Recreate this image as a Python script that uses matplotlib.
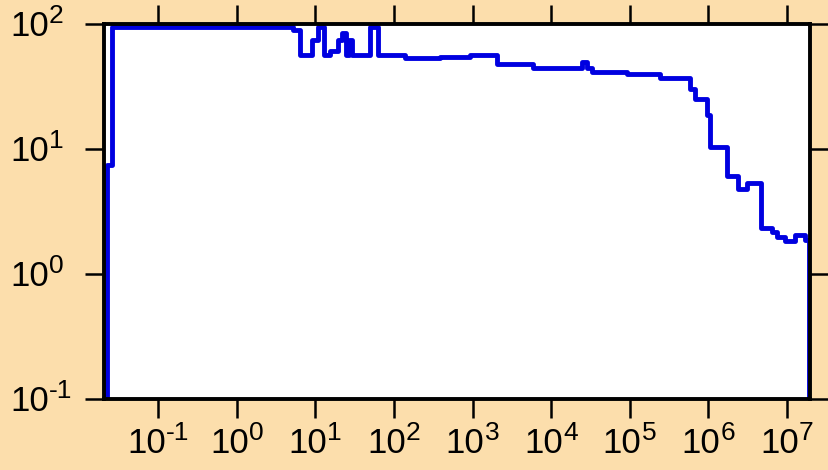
import matplotlib
matplotlib.use('Agg')
from matplotlib import pyplot as plt
from matplotlib.ticker import NullLocator

# step data (x where the level starts, level value)
x_vals = [0.0222, 0.0222, 0.0258, 5.18, 6.35, 9.02, 10.75, 12.8, 15.3, 19.3, 21.7,
          24.4, 26.7, 29.1, 49.3, 62.4, 137.6, 159, 384, 925, 2042, 5865,
          24660, 28560, 33060, 92300, 242700, 584800, 677000, 962700,
          1.05e6, 1.73e6, 2.39e6, 3.11e6, 4.69e6, 6.47e6, 7.5e6, 9.47e6,
          1.27e7, 1.70e7, 1.92e7]
y_vals = [0.05, 7.45, 94.6, 89.5, 56.0, 74.5, 94.6, 56.0, 60.0, 74.5, 84.7,
          56.0, 74.5, 56.0, 94.6, 56.0, 53.0, 53.5, 54.5, 56.0, 47.9, 44.5,
          49.7, 44.0, 40.9, 39.8, 36.6, 30.2, 24.8, 18.7,
          10.4, 6.08, 4.8, 5.35, 2.33, 2.17, 1.98, 1.84,
          2.05, 1.87, 0.05]

xticks = [1e-1, 1e0, 1e1, 1e2, 1e3, 1e4, 1e5, 1e6, 1e7]
xexps = ['-1', '0', '1', '2', '3', '4', '5', '6', '7']
yticks = [1e-1, 1e0, 1e1, 1e2]
yexps = ['-1', '0', '1', '2']

plt.rcParams['font.family'] = ['Liberation Sans', 'DejaVu Sans']

BIG = 25      # size of the "10"
SMALL = 19    # size of the exponent
PX = 72 / 100.0   # one pixel in points

def em_width(s, size):
    w = {'-': 0.333}
    return sum(w.get(c, 0.556) for c in s) * size

fig = plt.figure(figsize=(8.29, 4.70), dpi=100, facecolor='#FCDEAC')
ax = fig.add_axes([0.12545, 0.1517, 0.85163, 0.79787])
ax.set_facecolor('white')

ax.plot(x_vals, y_vals, drawstyle='steps-post', color='#0000E0', linewidth=3.5)

ax.set_xscale('log')
ax.set_yscale('log')
ax.set_xlim(0.02036, 1.976e7)
ax.set_ylim(0.1, 100)
ax.set_xticks(xticks)
ax.set_yticks(yticks)
ax.xaxis.set_minor_locator(NullLocator())
ax.yaxis.set_minor_locator(NullLocator())

for sp in ax.spines.values():
    sp.set_linewidth(2.8)
    sp.set_color('black')

ax.tick_params(axis='both', direction='out', length=14, width=1.8,
               top=True, right=True, labelbottom=False, labelleft=False)

# x labels: "10" + raised exponent, centred under the tick
w10 = em_width('10', BIG)
for xv, e in zip(xticks, xexps):
    we = em_width(e, SMALL)
    split = (w10 - we) / 2
    ax.annotate('10', xy=(xv, 0), xycoords=ax.get_xaxis_transform(),
                xytext=(split, -54.3 * PX), textcoords='offset points',
                ha='right', va='baseline', fontsize=BIG, annotation_clip=False)
    ax.annotate(e, xy=(xv, 0), xycoords=ax.get_xaxis_transform(),
                xytext=(split, -41.0 * PX), textcoords='offset points',
                ha='left', va='baseline', fontsize=SMALL, annotation_clip=False)

# y labels: left aligned at the figure margin
for yv, e in zip(yticks, yexps):
    ax.annotate('10', xy=(0, yv), xycoords=ax.get_yaxis_transform(),
                xytext=(-93.5 * PX, -12.7 * PX), textcoords='offset points',
                ha='left', va='baseline', fontsize=BIG, annotation_clip=False)
    ax.annotate(e, xy=(0, yv), xycoords=ax.get_yaxis_transform(),
                xytext=(-93.5 * PX + w10, 0.6 * PX), textcoords='offset points',
                ha='left', va='baseline', fontsize=SMALL, annotation_clip=False)

fig.savefig('out.png', dpi=100, facecolor=fig.get_facecolor())
